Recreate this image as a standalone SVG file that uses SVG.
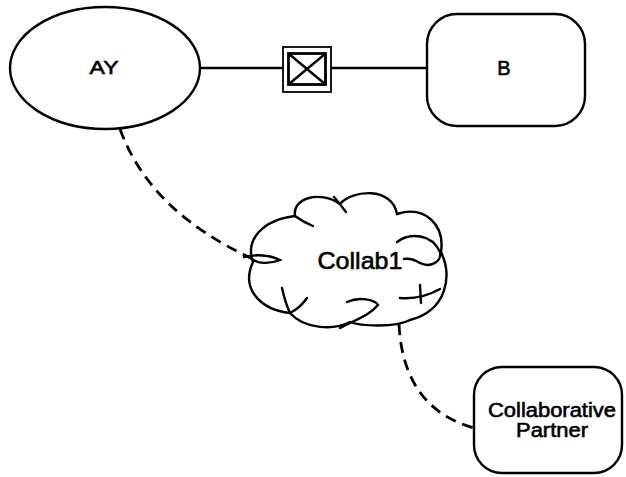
<svg xmlns="http://www.w3.org/2000/svg" width="626" height="477" viewBox="0 0 626 477">
  <style>
    .shape { fill: #fff; stroke: #000; stroke-width: 2.4; }
    .line { fill: none; stroke: #000; stroke-width: 2.4; }
    .dash { fill: none; stroke: #000; stroke-width: 2.8; stroke-dasharray: 11 7; }
    .curl { fill: none; stroke: #000; stroke-width: 2.4; stroke-linecap: round; }
    .lbl { font-family: "Liberation Sans", Arial, sans-serif; fill: #000; stroke: #000; stroke-width: 0.6; text-anchor: middle; }
  </style>
  <rect width="626" height="477" fill="#fff"/>
  <g id="connectors">
    <line class="line" x1="199" y1="68" x2="283" y2="68"/>
    <line class="line" x1="331" y1="68" x2="427" y2="68"/>
    <path class="dash" d="M 120,129 Q 150,212 253,259"/>
    <path class="dash" d="M 399,324 Q 403,408 474,428"/>
    <g id="link-symbol">
      <rect x="283" y="47" width="48" height="45" fill="#fff" stroke="#000" stroke-width="1.8"/>
      <rect x="288.5" y="53.5" width="37" height="31" fill="#fff" stroke="#000" stroke-width="2.8"/>
      <path class="line" stroke-width="1.6" d="M 289,54 L 325,84 M 325,54 L 289,84"/>
    </g>
  </g>
  <g id="node-AY">
    <ellipse class="shape" cx="105" cy="68" rx="95" ry="61"/>
    <text class="lbl" x="104" y="74" font-size="19" textLength="29" lengthAdjust="spacingAndGlyphs">AY</text>
  </g>
  <g id="node-B">
    <rect class="shape" x="427" y="14" width="158" height="112" rx="30" ry="30"/>
    <text class="lbl" x="504" y="75" font-size="20">B</text>
  </g>
  <g id="node-Collab1">
    <path class="shape" d="M 253,262 C 245,240 262,220 295,216 C 292,198 320,190 340,204 C 352,190 392,186 397,214 C 425,205 445,225 441,252 C 452,275 448,310 410,320 C 395,328 360,326 350,322 C 335,330 305,330 290,313 C 262,310 240,290 253,262 Z"/>
    <path class="curl" d="M 295,216 Q 303,222 313,226"/>
    <path class="curl" d="M 334,197 Q 340,204 346,212"/>
    <path class="curl" d="M 244,257 C 256,254 270,255 280,260 C 270,264 258,264 252,259"/>
    <path class="curl" d="M 397,242 C 410,232 432,234 440,252 C 442,262 430,268 420,263 C 415,260 410,258 404,259"/>
    <path class="curl" d="M 420,285 L 421,303"/>
    <path class="curl" d="M 400,298 Q 420,300 440,289"/>
    <path class="curl" d="M 347,302 C 360,296 375,300 378,305 C 370,315 355,320 340,328"/>
    <path class="curl" d="M 282,288 Q 285,302 290,313"/>
    <path class="curl" d="M 307,298 Q 300,308 290,313"/>
    <text class="lbl" x="360" y="269" font-size="24" textLength="85" lengthAdjust="spacingAndGlyphs">Collab1</text>
  </g>
  <g id="node-CollaborativePartner">
    <rect class="shape" x="474" y="367" width="148" height="106" rx="28" ry="28"/>
    <text class="lbl" x="552" y="417" font-size="20" textLength="128" lengthAdjust="spacingAndGlyphs">Collaborative</text>
    <text class="lbl" x="552" y="437" font-size="20" textLength="72" lengthAdjust="spacingAndGlyphs">Partner</text>
  </g>
</svg>
